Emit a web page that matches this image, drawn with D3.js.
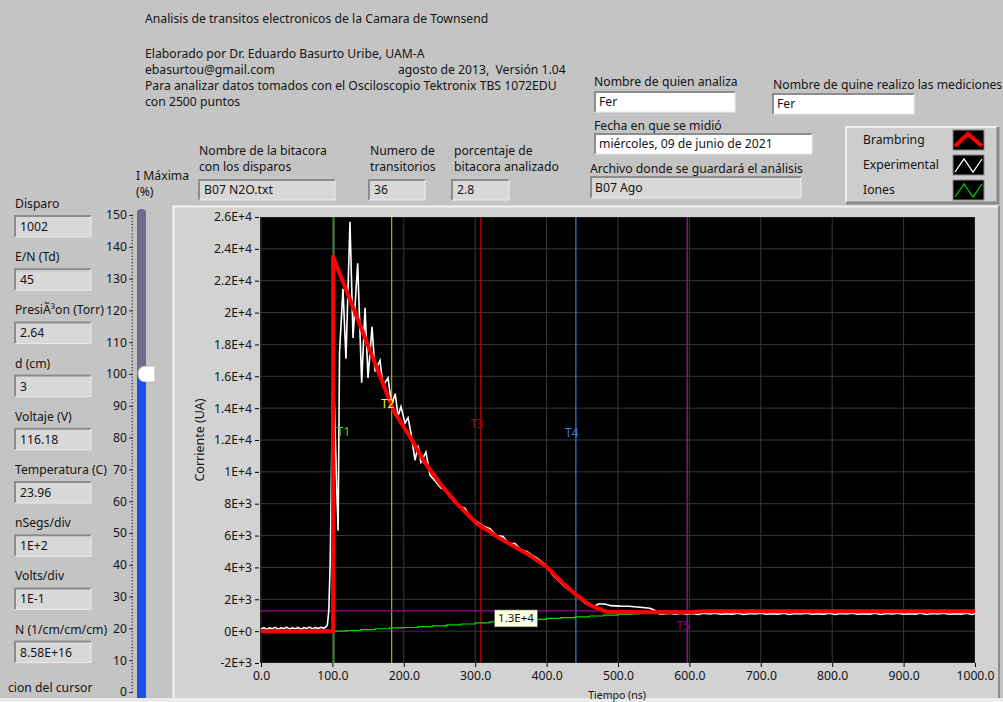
<!DOCTYPE html>
<html><head><meta charset="utf-8">
<script src="https://cdn.jsdelivr.net/npm/d3@7"></script>
<style>
body{margin:0;background:#c4c4c4;overflow:hidden}
text{font-family:"Noto Sans",sans-serif;font-size:12px;fill:#141414;white-space:pre}
</style></head><body>
<svg id="c" width="1003" height="702"></svg>
<script>
// ---------- data ----------
const xTicks = [0,100,200,300,400,500,600,700,800,900,1000];
const xTickLabels = ["0.0","100.0","200.0","300.0","400.0","500.0","600.0","700.0","800.0","900.0","1000.0"];
const yTicks = [-2000,0,2000,4000,6000,8000,10000,12000,14000,16000,18000,20000,22000,24000,26000];
const yTickLabels = ["-2E+3","0E+0","2E+3","4E+3","6E+3","8E+3","1E+4","1.2E+4","1.4E+4","1.6E+4","1.8E+4","2E+4","2.2E+4","2.4E+4","2.6E+4"];

// Brambring fit (red)
const fitT = [0,101,101,183,185.3,208.7,227.3,250.7,274,302,334.7,372,400,423.4,442,460.8,484,500,600,620,1000];
const fitV = [0,0,23500,14150,13870,12200,10730,9270,8020,6760,5820,4880,4040,2990,2260,1630,1210,1180,1190,1250,1250];

// Experimental (white)
const expT = [0,4,8,12,16,20,24,28,32,36,40,44,48,52,56,60,64,68,72,76,80,84,88,91,93,95,97,99,101,103,106,108,110,114.8,119,124.6,128.9,135.4,141,145.7,149.9,155.5,159.7,166.7,170.9,177.9,183,188,192,196,201.7,206,210,215.7,220,224,231,236.7,245,252,258,264.7,270,276,285.7,294,302.5,311,320.7,330,339,347,355.7,364,372.5,380,386.6,397.8,409,415,421.6,428,435.6,444,453.8,460,467.8,472,481.8,490,502.8,515,530.8,544.8,552,558,564,572,580,588,596,604,612,620,628,636,644,652,660,668,676,684,692,700,708,716,724,732,740,748,756,764,772,780,788,796,804,812,820,828,836,844,852,860,868,876,884,892,900,908,916,924,932,940,948,956,964,972,980,988,996,1000];
const expV = [140,220,110,200,150,240,120,210,160,250,130,200,150,230,110,220,170,250,140,230,160,240,180,260,400,1300,4500,11000,17500,14000,9000,6300,17500,21500,17100,25700,18400,23100,15600,20300,15900,19100,16300,17000,15400,15900,14200,14900,13500,14100,13060,13400,12430,10730,11640,10600,11240,9800,9370,8980,8900,8410,8200,7910,7700,7100,6880,6600,6440,6000,5940,5500,5500,5100,5000,4750,4580,4200,3500,3250,2950,2700,2450,2130,1760,1600,1570,1700,1700,1600,1570,1560,1500,1440,1300,1080,1080,1120,1060,1130,1070,1110,1050,1120,1080,1130,1060,1100,1070,1120,1050,1110,1080,1130,1060,1100,1070,1120,1050,1110,1080,1130,1060,1100,1070,1120,1050,1110,1080,1130,1060,1100,1070,1120,1050,1110,1080,1130,1060,1100,1070,1120,1050,1110,1080,1130,1060,1100,1070,1120,1050,1110,1080,1130,1060,1100,1070,1120,1050,1100];

// Iones (green)
const ionT = [102,120,140,160,180,200,220,240,260,280,300,320,340,360,380,400,420,440,460,480,500,520,530];
const ionV = [0,40,100,150,200,230,280,330,390,450,520,580,630,680,740,800,850,900,950,1000,1050,1080,1090];

// Cursors
const cursorNames = ["T1","T2","T3","T4","T5"];
const cursorT = [102,183,308,441,597];
const cursorLabelV = [12590,14310,13060,12490,380];
const cursorColors = ["#3cbf3c","#b4b400","#e00000","#3a7fd0","#c000c0"];
const cursorTextColors = ["#33dd33","#ffff00","#b00000","#3a7fd0","#8a008a"];
const hCursorV = 1270;
const hCursorLabel = "1.3E+4";

// Slider
const sliderTicks = [0,10,20,30,40,50,60,70,80,90,100,110,120,130,140,150];
const sliderValue = 100;

// Text panel
const headerLines = ["Analisis de transitos electronicos de la Camara de Townsend","Elaborado por Dr. Eduardo Basurto Uribe, UAM-A","ebasurtou@gmail.com","Para analizar datos tomados con el Osciloscopio Tektronix TBS 1072EDU","con 2500 puntos"];
const leftLabels = ["Disparo","E/N (Td)","PresiÃ³on (Torr)","d (cm)","Voltaje (V)","Temperatura (C)","nSegs/div","Volts/div","N (1/cm/cm/cm)"];
const leftValues = ["1002","45","2.64","3","116.18","23.96","1E+2","1E-1","8.58E+16"];
const legendNames = ["Brambring","Experimental","Iones"];
const legendColors = ["#ff0000","#ffffff","#00c800"];

// ---------- drawing ----------
const FS = 12.2;
const svg = d3.select("#c");
svg.append("rect").attr("width",1003).attr("height",702).attr("fill","#c4c4c4");

function sunken(x,yy,w,h,fill){
  const g = svg.append("g");
  g.append("rect").attr("x",x).attr("y",yy).attr("width",w).attr("height",h).attr("fill",fill);
  g.append("path").attr("d",`M${x},${yy+h} V${yy} H${x+w}`).attr("stroke","#8c8c8c").attr("stroke-width",2).attr("fill","none");
  g.append("path").attr("d",`M${x+w},${yy} V${yy+h} H${x}`).attr("stroke","#ececec").attr("stroke-width",1).attr("fill","none");
  return g;
}
function raised(x,yy,w,h,fill){
  const g = svg.append("g");
  g.append("rect").attr("x",x).attr("y",yy).attr("width",w).attr("height",h).attr("fill",fill);
  g.append("path").attr("d",`M${x},${yy+h} V${yy} H${x+w}`).attr("stroke","#efefef").attr("stroke-width",2).attr("fill","none");
  g.append("path").attr("d",`M${x+w},${yy} V${yy+h} H${x}`).attr("stroke","#8a8a8a").attr("stroke-width",3).attr("fill","none");
  return g;
}
function label(x,yy,t,opts={}){
  const el = svg.append("text").attr("x",x).attr("y",yy).text(t).style("font-size",(opts.size||FS)+"px");
  if(opts.anchor) el.attr("text-anchor",opts.anchor);
  if(opts.fill) el.style("fill",opts.fill);
  return el;
}

// header text
const headerY = [23,58,74,90,106];
headerLines.forEach((t,i)=>label(145,headerY[i],t));
label(398,74,"agosto de 2013,  Versión 1.04");

// top fields
label(199,155,"Nombre de la bitacora");
label(199,171,"con los disparos");
sunken(199,180,136,20,"#d8d8d8"); label(204,194,"B07 N2O.txt");
label(370,155,"Numero de");
label(370,171,"transitorios");
sunken(369,180,56,20,"#d8d8d8"); label(374,194,"36");
label(454,155,"porcentaje de");
label(454,171,"bitacora analizado");
sunken(452,180,57,20,"#d8d8d8"); label(457,194,"2.8");
label(136,180,"I Máxima");
label(136,196,"(%)");

label(594,86,"Nombre de quien analiza");
sunken(595,92,140,20,"#ffffff"); label(599,106,"Fer");
label(773,89,"Nombre de quine realizo las mediciones");
sunken(773,94,141,20,"#ffffff"); label(777,108,"Fer");
label(594,130,"Fecha en que se midió");
sunken(595,134,217,20,"#ffffff"); label(599,148,"miércoles, 09 de junio de 2021");
label(590,173,"Archivo donde se guardará el análisis");
sunken(591,177,210,21,"#d8d8d8"); label(595,192,"B07 Ago");

// legend
raised(846,127,152,76,"#cdcdcd");
legendNames.forEach((n,i)=>{
  const cy = 140 + i*25;
  label(863,cy+4,n);
  svg.append("rect").attr("x",953).attr("y",cy-10).attr("width",31).attr("height",20).attr("fill","#000").attr("stroke","#888");
  let d, w;
  if(i===0){ d=`M955,${cy+6} L968,${cy-6} L982,${cy+6}`; w=4; }
  else { d=`M955,${cy+7} L964,${cy-6} L973,${cy+7} L982,${cy-6}`; w=1.3; }
  svg.append("path").attr("d",d).attr("fill","none").attr("stroke",legendColors[i]).attr("stroke-width",w);
});

// left fields
leftLabels.forEach((t,i)=>{
  const ly = 204 + i*53.2;
  label(15,ly+4,t);
  sunken(15,ly+12,76,21,"#d8d8d8");
  label(20,ly+27,leftValues[i]);
});
label(8,692,"cion del cursor");

// slider
const sy = d3.scaleLinear().domain([0,150]).range([692,215]);
const sAxis = svg.append("g").attr("transform","translate(133,0)")
  .call(d3.axisLeft(sy).tickValues(sliderTicks).tickSize(4).tickFormat(d=>d));
sAxis.select(".domain").remove();
sAxis.selectAll("text").style("font-size",FS+"px").attr("dx",1);
sAxis.selectAll("line").attr("stroke","#333");
svg.append("g").attr("transform","translate(133,0)")
  .selectAll("line").data(d3.range(0,151,1)).join("line")
  .attr("x1",-1.5).attr("x2",0).attr("y1",d=>sy(d)).attr("y2",d=>sy(d)).attr("stroke","#333");
svg.append("rect").attr("x",137).attr("y",209).attr("width",9).attr("height",492).attr("rx",4).attr("fill","#6d6d88");
svg.append("rect").attr("x",137).attr("y",sy(sliderValue)).attr("width",9).attr("height",702-sy(sliderValue)).attr("fill","#1c4fe4");
const ty = sy(sliderValue);
svg.append("path").attr("d",`M138,${ty} Q138,${ty-8} 146,${ty-8} H155 V${ty+8} H146 Q138,${ty+8} 138,${ty} Z`)
  .attr("fill","#ffffff").attr("stroke","#b0b0b0").attr("stroke-width",0.7);

// graph frame
svg.append("rect").attr("x",173).attr("y",206).attr("width",826).attr("height",496).attr("fill","#d2d2d2");
svg.append("line").attr("x1",173).attr("x2",999).attr("y1",206.5).attr("y2",206.5).attr("stroke","#f2f2f2").attr("stroke-width",2);
svg.append("line").attr("x1",173.5).attr("x2",173.5).attr("y1",206).attr("y2",702).attr("stroke","#f2f2f2").attr("stroke-width",2);
svg.append("line").attr("x1",999).attr("x2",999).attr("y1",206).attr("y2",702).attr("stroke","#8a8a8a").attr("stroke-width",2);
svg.append("rect").attr("x",0).attr("y",698).attr("width",1003).attr("height",4).attr("fill","#ececec");

const x = d3.scaleLinear().domain([0,1000]).range([261,975]);
const y = d3.scaleLinear().domain([-2000,26000]).range([663,217]);

svg.append("rect").attr("x",260).attr("y",217).attr("width",715).attr("height",446).attr("fill","#000");
svg.append("defs").append("clipPath").attr("id","clip").append("rect").attr("x",260).attr("y",217).attr("width",715).attr("height",446);
const plot = svg.append("g").attr("clip-path","url(#clip)");

// grid
plot.selectAll(".gx").data(xTicks).join("line").attr("x1",d=>x(d)).attr("x2",d=>x(d)).attr("y1",217).attr("y2",663).attr("stroke","#383838");
plot.selectAll(".gy").data(yTicks).join("line").attr("y1",d=>y(d)).attr("y2",d=>y(d)).attr("x1",260).attr("x2",975).attr("stroke","#383838");

// axes
const ax = svg.append("g").attr("transform","translate(0,663)")
  .call(d3.axisBottom(x).tickValues(xTicks).tickSize(4).tickFormat((d,i)=>xTickLabels[i]));
ax.select(".domain").remove();
ax.selectAll("text").style("font-size",FS+"px").attr("dy","0.85em");
const ay = svg.append("g").attr("transform","translate(259,0)")
  .call(d3.axisLeft(y).tickValues(yTicks).tickSize(4).tickFormat((d,i)=>yTickLabels[i]));
ay.select(".domain").remove();
ay.selectAll("text").style("font-size",FS+"px");
svg.append("text").attr("transform","translate(204,440) rotate(-90)").attr("text-anchor","middle").style("font-size","12.5px").text("Corriente (UA)");
svg.append("text").attr("x",617).attr("y",699).attr("text-anchor","middle").style("font-size","10.5px").text("Tiempo (ns)");

// cursors (vertical)
cursorT.forEach((t,i)=>{
  plot.append("line").attr("x1",x(t)).attr("x2",x(t)).attr("y1",217).attr("y2",663).attr("stroke",cursorColors[i]).attr("stroke-width",1.2);
});
plot.append("line").attr("x1",260).attr("x2",975).attr("y1",y(hCursorV)).attr("y2",y(hCursorV)).attr("stroke","#a000a0").attr("stroke-width",1.2);

// plots
const line = d3.line().x(d=>x(d[0])).y(d=>y(d[1]));
plot.append("path").datum(d3.zip(ionT,ionV)).attr("d",line.curve(d3.curveStepAfter)).attr("fill","none").attr("stroke","#00e000").attr("stroke-width",1.2);
line.curve(d3.curveLinear);
plot.append("path").datum(d3.zip(expT,expV)).attr("d",line).attr("fill","none").attr("stroke","#ffffff").attr("stroke-width",1.6);
plot.append("path").datum(d3.zip(fitT,fitV)).attr("d",line).attr("fill","none").attr("stroke","#ff0000").attr("stroke-width",4).attr("stroke-linejoin","round");

// cursor labels
cursorT.forEach((t,i)=>{
  svg.append("text").attr("x",x(t)+(i===0?3:-4)).attr("y",y(cursorLabelV[i])+5)
    .attr("text-anchor",i===0?"start":"middle").style("font-size","12px").style("fill",cursorTextColors[i]).text(cursorNames[i]);
});
const lbx = x(327), lby = y(hCursorV);
svg.append("rect").attr("x",lbx).attr("y",lby-1).attr("width",43).attr("height",17).attr("fill","#ffffe1").attr("stroke","#555").attr("stroke-width",0.6);
svg.append("text").attr("x",lbx+21.5).attr("y",lby+11.5).attr("text-anchor","middle").style("font-size","11.5px").text(hCursorLabel);
</script>
</body></html>
